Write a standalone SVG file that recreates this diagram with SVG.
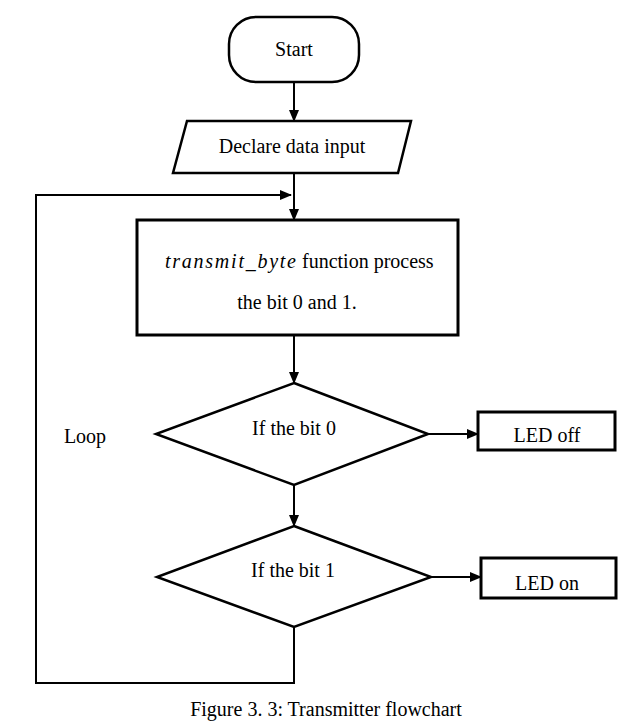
<svg xmlns="http://www.w3.org/2000/svg" width="631" height="727" viewBox="0 0 631 727">
<style>
.shape{fill:#fff;stroke:#000;stroke-width:2.5}
.thick{stroke-width:3}
.line{fill:none;stroke:#000;stroke-width:2}
text{font-family:"Liberation Serif","Times New Roman",serif;font-size:20px;fill:#000}
.c{text-anchor:middle}
.math{font-style:italic}
</style>
<defs>
<marker id="ah" markerUnits="userSpaceOnUse" markerWidth="12" markerHeight="10" refX="11" refY="5" orient="auto">
<path d="M0,0 L12,5 L0,10 Z" fill="#000"/>
</marker>
</defs>
<rect width="631" height="727" fill="#fff"/>
<g id="connectors">
<line class="line" x1="294" y1="82" x2="294" y2="121" marker-end="url(#ah)"/>
<line class="line" x1="294" y1="173" x2="294" y2="220" marker-end="url(#ah)"/>
<line class="line" x1="294" y1="335" x2="294" y2="383" marker-end="url(#ah)"/>
<line class="line" x1="294" y1="485" x2="294" y2="526" marker-end="url(#ah)"/>
<line class="line" x1="428" y1="434" x2="478" y2="434" marker-end="url(#ah)"/>
<line class="line" x1="431" y1="577" x2="481" y2="577" marker-end="url(#ah)"/>
<path class="line" d="M294,627 L294,683 L36,683 L36,195 L291,195" marker-end="url(#ah)"/>
<text x="85" y="443" class="c">Loop</text>
</g>
<g id="start">
<rect class="shape" x="229" y="17" width="130" height="65" rx="27"/>
<text x="294" y="56" class="c">Start</text>
</g>
<g id="declare">
<polygon class="shape" points="187,121 411,121 398,173 173,173"/>
<text x="292" y="153" class="c">Declare data input</text>
</g>
<g id="process">
<rect class="shape thick" x="137" y="220" width="321" height="115"/>
<text x="165" y="268" class="math" textLength="131" lengthAdjust="spacing">transmit_byte</text>
<text x="302" y="268">function process</text>
<text x="297" y="309" class="c">the bit 0 and 1.</text>
</g>
<g id="bit0">
<polygon class="shape" points="294,383 428,434 294,485 156,434"/>
<text x="294" y="435" class="c">If the bit 0</text>
</g>
<g id="ledoff">
<rect class="shape thick" x="478" y="412" width="137" height="38"/>
<text x="547" y="442" class="c">LED off</text>
</g>
<g id="bit1">
<polygon class="shape" points="294,526 431,577 294,627 157,577"/>
<text x="293" y="577" class="c">If the bit 1</text>
</g>
<g id="ledon">
<rect class="shape thick" x="481" y="558" width="135" height="40"/>
<text x="547" y="590" class="c">LED on</text>
</g>
<text x="326" y="716" class="c" font-size="20.5">Figure 3. 3: Transmitter flowchart</text>
</svg>
